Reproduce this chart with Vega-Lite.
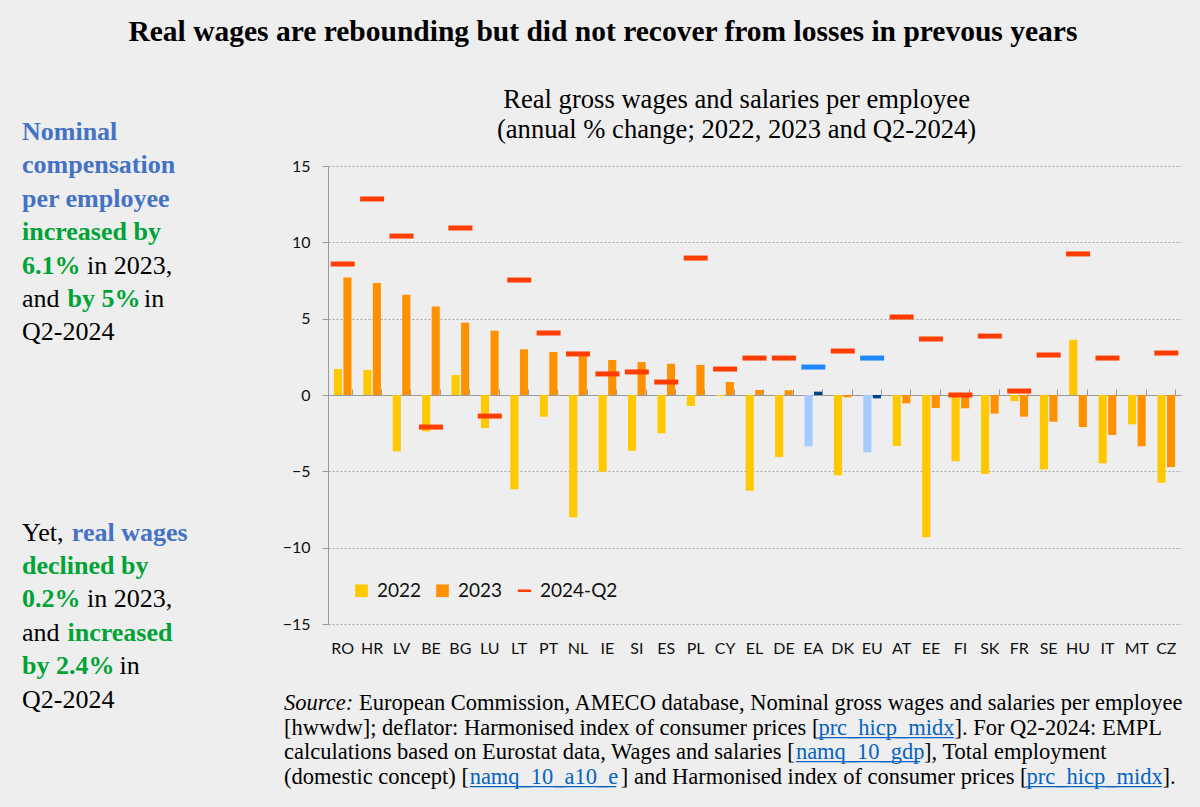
{
  "$schema": "https://vega.github.io/schema/vega-lite/v6.json",
  "background": "#eeeeee",
  "padding": {"left": 22, "top": 16, "right": 20, "bottom": 22},
  "title": {"text": "Real wages are rebounding but did not recover from losses in prevous years", "font": "Liberation Serif", "fontSize": 29.5, "fontWeight": "bold", "color": "#000000", "anchor": "middle", "offset": 40},
  "config": {"view": {"stroke": null}, "font": "Lato"},
  "datasets": {
    "bars": [
      {"c": "RO", "period": "2022", "v": 1.70}, {"c": "RO", "period": "2023", "v": 7.69},
      {"c": "HR", "period": "2022", "v": 1.64}, {"c": "HR", "period": "2023", "v": 7.34},
      {"c": "LV", "period": "2022", "v": -3.69}, {"c": "LV", "period": "2023", "v": 6.57},
      {"c": "BE", "period": "2022", "v": -2.38}, {"c": "BE", "period": "2023", "v": 5.79},
      {"c": "BG", "period": "2022", "v": 1.31}, {"c": "BG", "period": "2023", "v": 4.74},
      {"c": "LU", "period": "2022", "v": -2.16}, {"c": "LU", "period": "2023", "v": 4.21},
      {"c": "LT", "period": "2022", "v": -6.18}, {"c": "LT", "period": "2023", "v": 2.99},
      {"c": "PT", "period": "2022", "v": -1.42}, {"c": "PT", "period": "2023", "v": 2.82},
      {"c": "NL", "period": "2022", "v": -8.01}, {"c": "NL", "period": "2023", "v": 2.62},
      {"c": "IE", "period": "2022", "v": -5.02}, {"c": "IE", "period": "2023", "v": 2.29},
      {"c": "SI", "period": "2022", "v": -3.65}, {"c": "SI", "period": "2023", "v": 2.16},
      {"c": "ES", "period": "2022", "v": -2.51}, {"c": "ES", "period": "2023", "v": 2.05},
      {"c": "PL", "period": "2022", "v": -0.72}, {"c": "PL", "period": "2023", "v": 1.97},
      {"c": "CY", "period": "2022", "v": -0.07}, {"c": "CY", "period": "2023", "v": 0.85},
      {"c": "EL", "period": "2022", "v": -6.27}, {"c": "EL", "period": "2023", "v": 0.33},
      {"c": "DE", "period": "2022", "v": -4.06}, {"c": "DE", "period": "2023", "v": 0.31},
      {"c": "EA", "period": "2022", "v": -3.36}, {"c": "EA", "period": "2023", "v": 0.22},
      {"c": "DK", "period": "2022", "v": -5.26}, {"c": "DK", "period": "2023", "v": -0.15},
      {"c": "EU", "period": "2022", "v": -3.76}, {"c": "EU", "period": "2023", "v": -0.22},
      {"c": "AT", "period": "2022", "v": -3.34}, {"c": "AT", "period": "2023", "v": -0.55},
      {"c": "EE", "period": "2022", "v": -9.32}, {"c": "EE", "period": "2023", "v": -0.85},
      {"c": "FI", "period": "2022", "v": -4.34}, {"c": "FI", "period": "2023", "v": -0.87},
      {"c": "SK", "period": "2022", "v": -5.17}, {"c": "SK", "period": "2023", "v": -1.22},
      {"c": "FR", "period": "2022", "v": -0.41}, {"c": "FR", "period": "2023", "v": -1.42},
      {"c": "SE", "period": "2022", "v": -4.87}, {"c": "SE", "period": "2023", "v": -1.75},
      {"c": "HU", "period": "2022", "v": 3.62}, {"c": "HU", "period": "2023", "v": -2.10},
      {"c": "IT", "period": "2022", "v": -4.48}, {"c": "IT", "period": "2023", "v": -2.62},
      {"c": "MT", "period": "2022", "v": -1.92}, {"c": "MT", "period": "2023", "v": -3.36},
      {"c": "CZ", "period": "2022", "v": -5.74}, {"c": "CZ", "period": "2023", "v": -4.72}
    ],
    "q2": [
      {"c": "RO", "period": "2024-Q2", "v": 8.58}, {"c": "HR", "period": "2024-Q2", "v": 12.84},
      {"c": "LV", "period": "2024-Q2", "v": 10.41}, {"c": "BE", "period": "2024-Q2", "v": -2.10},
      {"c": "BG", "period": "2024-Q2", "v": 10.94}, {"c": "LU", "period": "2024-Q2", "v": -1.38},
      {"c": "LT", "period": "2024-Q2", "v": 7.53}, {"c": "PT", "period": "2024-Q2", "v": 4.06},
      {"c": "NL", "period": "2024-Q2", "v": 2.69}, {"c": "IE", "period": "2024-Q2", "v": 1.38},
      {"c": "SI", "period": "2024-Q2", "v": 1.51}, {"c": "ES", "period": "2024-Q2", "v": 0.85},
      {"c": "PL", "period": "2024-Q2", "v": 8.97}, {"c": "CY", "period": "2024-Q2", "v": 1.70},
      {"c": "EL", "period": "2024-Q2", "v": 2.42}, {"c": "DE", "period": "2024-Q2", "v": 2.42},
      {"c": "EA", "period": "2024-Q2", "v": 1.83}, {"c": "DK", "period": "2024-Q2", "v": 2.88},
      {"c": "EU", "period": "2024-Q2", "v": 2.42}, {"c": "AT", "period": "2024-Q2", "v": 5.11},
      {"c": "EE", "period": "2024-Q2", "v": 3.67}, {"c": "FI", "period": "2024-Q2", "v": 0.0},
      {"c": "SK", "period": "2024-Q2", "v": 3.86}, {"c": "FR", "period": "2024-Q2", "v": 0.26},
      {"c": "SE", "period": "2024-Q2", "v": 2.62}, {"c": "HU", "period": "2024-Q2", "v": 9.24},
      {"c": "IT", "period": "2024-Q2", "v": 2.42}, {"c": "CZ", "period": "2024-Q2", "v": 2.75}
    ],
    "notes": [
      {"line": 1, "tone": "blue", "text": "Nominal"},
      {"line": 2, "tone": "blue", "text": "compensation"},
      {"line": 3, "tone": "blue", "text": "per employee"},
      {"line": 4, "tone": "green", "text": "increased by"},
      {"line": 5, "tone": "green", "text": "6.1%"},
      {"line": 5, "tone": "plain", "text": "\u200b\u2002\u2002\u2002\u2002\u2002in 2023,"},
      {"line": 6, "tone": "plain", "text": "and\u00a0\u2002\u2002\u2002\u2002\u2002\u00a0\u00a0in"},
      {"line": 6, "tone": "green", "text": "\u200b\u2002\u2002\u2002\u00a0by 5%"},
      {"line": 7, "tone": "plain", "text": "Q2-2024"},
      {"line": 13, "tone": "plain", "text": "Yet,"},
      {"line": 13, "tone": "blue", "text": "\u200b\u2002\u2002\u2002\u00a0\u2006real wages"},
      {"line": 14, "tone": "green", "text": "declined by"},
      {"line": 15, "tone": "green", "text": "0.2%"},
      {"line": 15, "tone": "plain", "text": "\u200b\u2002\u2002\u2002\u2002\u2002in 2023,"},
      {"line": 16, "tone": "plain", "text": "and"},
      {"line": 16, "tone": "green", "text": "\u200b\u2002\u2002\u2002\u00a0increased"},
      {"line": 17, "tone": "green", "text": "by 2.4%"},
      {"line": 17, "tone": "plain", "text": "\u200b\u2002\u2002\u2002\u2002\u2002\u2002\u2002\u00a0in"},
      {"line": 18, "tone": "plain", "text": "Q2-2024"}
    ],
    "source": [
      {"line": 1, "part": "italic", "text": "Source:"},
      {"line": 1, "part": "plain", "text": "\u200b\u2003\u2003\u2003\u2004European Commission, AMECO database, Nominal gross wages and salaries per employee"},
      {"line": 2, "part": "underline", "text": "\u200b\u2003\u2003\u2003\u2003\u2003\u2003\u2003\u2003\u2003\u2003\u2003\u2003\u2003\u2003\u2003\u2003\u2003\u2003\u2003\u2003\u2003\u2003\u2003\u00a0\u00a0\u00a0____________"},
      {"line": 2, "part": "link", "text": "\u200b\u2003\u2003\u2003\u2003\u2003\u2003\u2003\u2003\u2003\u2003\u2003\u2003\u2003\u2003\u2003\u2003\u2003\u2003\u2003\u2003\u2003\u2003\u2003\u00a0\u00a0\u00a0prc_hicp_midx"},
      {"line": 2, "part": "plain", "text": "[hwwdw]; deflator: Harmonised index of consumer prices [\u2003\u2003\u2003\u2003\u2003\u2003]. For Q2-2024: EMPL"},
      {"line": 3, "part": "underline", "text": "\u200b\u2003\u2003\u2003\u2003\u2003\u2003\u2003\u2003\u2003\u2003\u2003\u2003\u2003\u2003\u2003\u2003\u2003\u2003\u2003\u2003\u2003\u2003\u00a0\u00a0\u00a0___________"},
      {"line": 3, "part": "link", "text": "\u200b\u2003\u2003\u2003\u2003\u2003\u2003\u2003\u2003\u2003\u2003\u2003\u2003\u2003\u2003\u2003\u2003\u2003\u2003\u2003\u2003\u2003\u2003\u00a0\u00a0\u00a0namq_10_gdp"},
      {"line": 3, "part": "plain", "text": "calculations based on Eurostat data, Wages and salaries [\u2003\u2003\u2003\u2003\u2003\u00a0\u00a0\u00a0], Total employment"},
      {"line": 4, "part": "underline", "text": "\u200b\u2003\u2003\u2003\u2003\u2003\u2003\u2003\u2003\u00a0_____________"},
      {"line": 4, "part": "link", "text": "\u200b\u2003\u2003\u2003\u2003\u2003\u2003\u2003\u2003\u00a0namq_10_a10_e"},
      {"line": 4, "part": "underline", "text": "\u200b\u2003\u2003\u2003\u2003\u2003\u2003\u2003\u2003\u2003\u2003\u2003\u2003\u2003\u2003\u2003\u2003\u2003\u2003\u2003\u2003\u2003\u2003\u2003\u2003\u2003\u2003\u2003\u2003\u2003\u2003\u2003\u2003\u2003____________"},
      {"line": 4, "part": "link", "text": "\u200b\u2003\u2003\u2003\u2003\u2003\u2003\u2003\u2003\u2003\u2003\u2003\u2003\u2003\u2003\u2003\u2003\u2003\u2003\u2003\u2003\u2003\u2003\u2003\u2003\u2003\u2003\u2003\u2003\u2003\u2003\u2003\u2003\u2003prc_hicp_midx"},
      {"line": 4, "part": "plain", "text": "(domestic concept) [\u2003\u2003\u2003\u2003\u2003\u2003\u00a0\u00a0\u00a0] and Harmonised index of consumer prices [\u2003\u2003\u2003\u2003\u2003\u2003]."}
    ]
  },
  "spacing": 20,
  "hconcat": [
    {
      "width": 240,
      "height": 560,
      "data": {"name": "notes"},
      "encoding": {
        "x": {"datum": 0, "type": "quantitative", "scale": {"domain": [0, 1]}, "axis": null},
        "y": {"field": "line", "type": "quantitative", "scale": {"domain": [1.78, 18.55], "reverse": true, "nice": false, "zero": false}, "axis": null},
        "text": {"field": "text"}
      },
      "layer": [
        {"transform": [{"filter": "datum.tone == 'blue'"}], "mark": {"type": "text", "font": "Liberation Serif", "fontSize": 26, "fontWeight": "bold", "align": "left", "baseline": "alphabetic", "color": "#4472C4"}},
        {"transform": [{"filter": "datum.tone == 'green'"}], "mark": {"type": "text", "font": "Liberation Serif", "fontSize": 26, "fontWeight": "bold", "align": "left", "baseline": "alphabetic", "color": "#00A335"}},
        {"transform": [{"filter": "datum.tone == 'plain'"}], "mark": {"type": "text", "font": "Liberation Serif", "fontSize": 26, "fontWeight": "normal", "align": "left", "baseline": "alphabetic", "color": "#000000"}}
      ]
    },
    {
      "spacing": 30,
      "vconcat": [
        {
          "width": 853,
          "height": 458,
          "title": {"text": ["Real gross wages and salaries per employee", "(annual % change; 2022, 2023 and Q2-2024)"], "font": "Liberation Serif", "fontSize": 26.6, "fontWeight": "normal", "lineHeight": 30, "color": "#000000", "anchor": "middle", "frame": "bounds", "offset": 14, "dx": 5},
          "resolve": {"axis": {"x": "independent"}},
          "layer": [
            {
              "data": {"name": "bars"},
              "transform": [{"calculate": "indexof(['EA','EU'], datum.c) >= 0 ? datum.period + ' EA/EU' : datum.period", "as": "series"}],
              "mark": {"type": "bar"},
              "encoding": {
                "x": {"field": "c", "type": "nominal", "sort": null,
                  "scale": {"domain": ["RO","HR","LV","BE","BG","LU","LT","PT","NL","IE","SI","ES","PL","CY","EL","DE","EA","DK","EU","AT","EE","FI","SK","FR","SE","HU","IT","MT","CZ"], "paddingInner": 0.4, "paddingOuter": 0.2},
                  "axis": {"title": null, "domain": false, "ticks": false, "grid": false, "labelAngle": 0, "labelFont": "Lato", "labelFontSize": 16, "labelColor": "#111111", "labelPadding": 16}},
                "xOffset": {"field": "period", "type": "nominal", "scale": {"domain": ["2022", "2023"], "paddingInner": 0.15, "paddingOuter": 0}},
                "y": {"field": "v", "type": "quantitative", "stack": null, "scale": {"domain": [-15, 15], "nice": false},
                  "axis": {"title": null, "values": [-15, -10, -5, 0, 5, 10, 15], "domain": true, "domainColor": "#999999", "ticks": true, "tickColor": "#999999", "tickSize": 6, "grid": true, "gridColor": "#a6a6a6", "gridDash": [2, 2], "labelFont": "Lato", "labelFontSize": 16, "labelColor": "#111111", "labelPadding": 12}},
                "color": {"field": "series", "type": "nominal",
                  "scale": {"domain": ["2022", "2023", "2024-Q2", "2022 EA/EU", "2023 EA/EU", "2024-Q2 EA/EU"], "range": ["#FFC800", "#FF9100", "#FF3D00", "#A6CCFF", "#00418C", "#1E88FF"]},
                  "legend": {"title": null, "orient": "none", "legendX": 330, "legendY": 415, "direction": "horizontal", "values": ["2022", "2023", "2024-Q2"], "labelFont": "Lato", "labelFontSize": 19, "labelColor": "#111111", "symbolSize": 160, "labelOffset": 6, "columnPadding": 11, "padding": 0,
                    "encode": {"symbols": {"update": {"shape": {"signal": "datum.value === '2024-Q2' ? 'M-1.05,-0.2H1.05V0.2H-1.05Z' : 'square'"}, "fill": {"scale": "color", "field": "value"}, "stroke": {"value": "transparent"}, "opacity": {"value": 1}, "fillOpacity": {"value": 1}}}}}}
              }
            },
            {
              "data": {"name": "q2"},
              "transform": [{"calculate": "indexof(['EA','EU'], datum.c) >= 0 ? datum.period + ' EA/EU' : datum.period", "as": "series"}],
              "mark": {"type": "tick", "size": 24, "thickness": 5, "opacity": 1},
              "encoding": {
                "x": {"field": "c", "type": "nominal", "sort": null,
                  "scale": {"domain": ["RO","HR","LV","BE","BG","LU","LT","PT","NL","IE","SI","ES","PL","CY","EL","DE","EA","DK","EU","AT","EE","FI","SK","FR","SE","HU","IT","MT","CZ"], "paddingInner": 0.4, "paddingOuter": 0.2},
                  "axis": {"title": null, "labels": false, "domain": true, "domainColor": "#999999", "ticks": true, "tickBand": "extent", "tickColor": "#999999", "tickSize": 6, "grid": false, "offset": -229}},
                "y": {"field": "v", "type": "quantitative"},
                "color": {"field": "series", "type": "nominal"}
              }
            }
          ]
        },
        {
          "width": 853,
          "height": 100,
          "data": {"name": "source"},
          "encoding": {
            "x": {"datum": 0, "type": "quantitative", "scale": {"domain": [0, 1]}, "axis": null},
            "y": {"field": "line", "type": "quantitative", "scale": {"domain": [0, 4.1], "reverse": true, "nice": false, "zero": false}, "axis": null},
            "text": {"field": "text"}
          },
          "layer": [
            {"transform": [{"filter": "datum.part == 'underline'"}], "mark": {"type": "text", "font": "Liberation Serif", "fontSize": 22.5, "align": "left", "baseline": "alphabetic", "dx": -44, "color": "#0563C1"}},
            {"transform": [{"filter": "datum.part == 'link'"}], "mark": {"type": "text", "font": "Liberation Serif", "fontSize": 22.5, "align": "left", "baseline": "alphabetic", "dx": -44, "color": "#0563C1"}},
            {"transform": [{"filter": "datum.part == 'plain'"}], "mark": {"type": "text", "font": "Liberation Serif", "fontSize": 22.5, "align": "left", "baseline": "alphabetic", "dx": -44, "color": "#000000"}},
            {"transform": [{"filter": "datum.part == 'italic'"}], "mark": {"type": "text", "font": "Liberation Serif", "fontSize": 22.5, "fontStyle": "italic", "align": "left", "baseline": "alphabetic", "dx": -44, "color": "#000000"}}
          ]
        }
      ]
    }
  ]
}
